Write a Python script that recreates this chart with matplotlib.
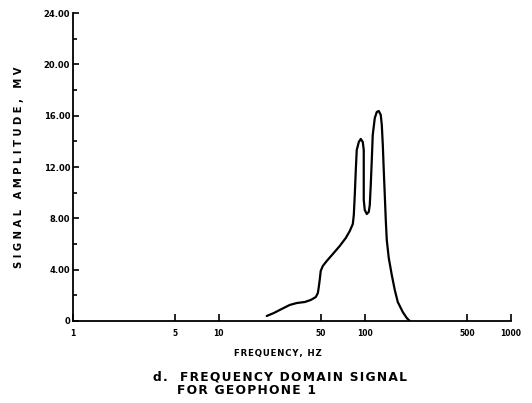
#!/usr/bin/env python3
# -*- coding: utf-8 -*-
"""Frequency domain signal for geophone 1 (traced from a scanned report figure)."""

import matplotlib
matplotlib.use('Agg')
import matplotlib.pyplot as plt
from matplotlib.ticker import FixedLocator, NullFormatter

# Traced curve (the two peaks are narrow loops, so the path runs up and back down)
freq_hz = [21.3, 23.8, 27.0, 30.6, 34.2, 38.8, 42.7, 46.2, 47.7, 48.4, 49.2, 49.9,
           51.6, 54.9, 60.4, 67.4, 74.1, 78.9, 82.8, 84.1,
           85.4, 86.8, 88.1, 91.0, 93.9, 96.9, 98.4, 98.4, 98.4, 100.0,
           103.2, 106.5, 108.2, 109.9, 111.7, 113.4, 117.1, 120.8, 124.7, 128.7,
           130.8, 132.9, 134.9, 137.1, 139.3, 141.5, 146.0, 153.1, 160.5, 168.3,
           182.1, 194.0, 203.3]
amp_mv  = [0.39, 0.62, 0.94, 1.25, 1.40, 1.48, 1.64, 1.87, 2.18, 2.65, 3.27, 3.90,
           4.29, 4.68, 5.22, 5.85, 6.47, 7.01, 7.56, 8.26,
           9.82, 11.77, 13.33, 13.95, 14.19, 13.95, 13.33, 11.38, 9.43, 8.65,
           8.34, 8.50, 9.04, 10.60, 12.55, 14.50, 15.82, 16.29, 16.37, 16.06,
           15.28, 13.72, 11.77, 9.82, 7.87, 6.31, 4.91, 3.59, 2.42, 1.48,
           0.70, 0.23, 0.0]

xticks      = [1, 5, 10, 50, 100, 500, 1000]
xticklabels = ['1', '5', '10', '50', '100', '500', '1000']
yticks      = [0, 4, 8, 12, 16, 20, 24]
yticklabels = ['0', '4.00', '8.00', '12.00', '16.00', '20.00', '24.00']
yminor      = [2, 6, 10, 14, 18, 22]


def spaced(text, gap='\u200a'):
    # the scanned lettering is widely tracked
    return gap.join(text)


fig = plt.figure(figsize=(5.32, 4.03), dpi=100)
ax = fig.add_axes([0.137, 0.2035, 0.823, 0.764])

ax.plot(freq_hz, amp_mv, color='black', lw=1.6, solid_capstyle='round', solid_joinstyle='round')

ax.set_xscale('log')
ax.set_xlim(1, 1000)
ax.set_ylim(0, 24)

ax.xaxis.set_major_locator(FixedLocator(xticks))
ax.xaxis.set_minor_locator(FixedLocator([]))
ax.set_xticklabels(xticklabels)
ax.xaxis.set_minor_formatter(NullFormatter())
ax.set_yticks(yticks)
ax.set_yticklabels(yticklabels)
ax.yaxis.set_minor_locator(FixedLocator(yminor))

for side in ['top', 'right']:
    ax.spines[side].set_visible(False)
for side in ['left', 'bottom']:
    ax.spines[side].set_linewidth(1.3)

ax.tick_params(axis='both', which='both', direction='in', color='black', width=1.2)
ax.tick_params(axis='x', which='major', length=5, pad=6, labelsize=5.5)
ax.tick_params(axis='y', which='major', length=4, pad=2, labelsize=6)
ax.tick_params(axis='y', which='minor', length=3)
for lab in ax.get_xticklabels() + ax.get_yticklabels():
    lab.set_fontweight('bold')

ax.set_xlabel(spaced('FREQUENCY, HZ'), fontsize=6.2, fontweight='bold', labelpad=8)
ax.xaxis.label.set_x(0.468)
ax.set_ylabel(spaced('SIGNAL AMPLITUDE, MV', ' '), fontsize=7.2, fontweight='bold', labelpad=14)

fig.text(0.288, 0.057, spaced('d.  FREQUENCY DOMAIN SIGNAL'), fontsize=8.8, fontweight='bold',
         ha='left', va='baseline')
fig.text(0.333, 0.022, spaced('FOR GEOPHONE 1'), fontsize=8.8, fontweight='bold',
         ha='left', va='baseline')

fig.savefig('out.png', dpi=100)
